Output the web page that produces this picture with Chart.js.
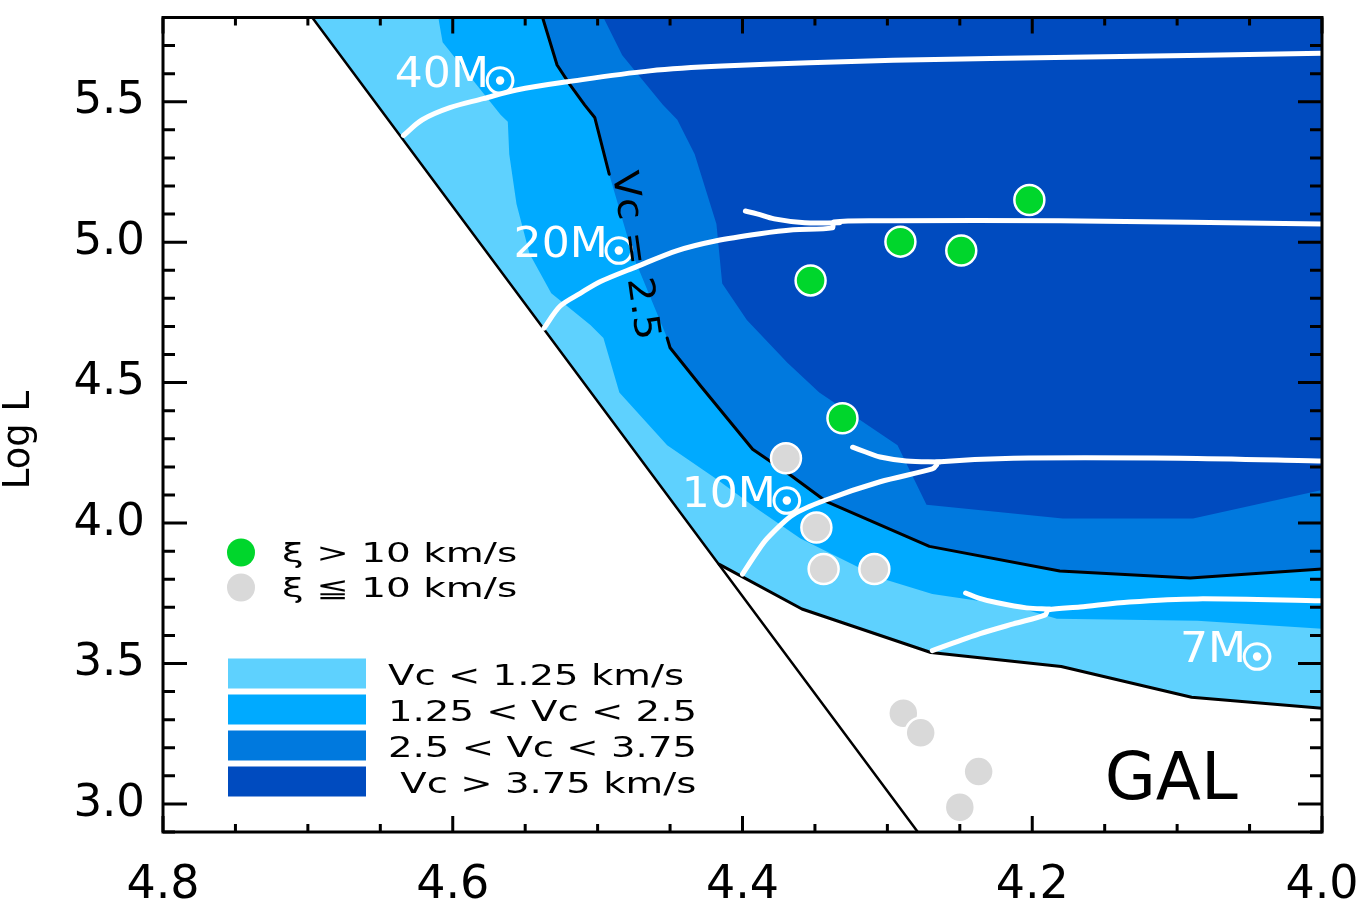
<!DOCTYPE html>
<html lang="en">
<head>
<meta charset="utf-8">
<title>GAL - Vc map</title>
<script src="https://cdn.jsdelivr.net/npm/chart.js@4.4.1/dist/chart.umd.min.js"></script>
<style>
  html, body { margin: 0; padding: 0; background: #fff; }
  canvas { display: block; }
</style>
</head>
<body>
<canvas id="grafico" width="1366" height="911"></canvas>
<script>
// --- Axes (x = log Teff, reversed; y = log L) ---
const xTicks = [4.8, 4.6, 4.4, 4.2, 4.0];
const yTicks = [3.0, 3.5, 4.0, 4.5, 5.0, 5.5];

// --- Vc contours: [log Teff, log L], each region is filled up to the top edge ---
const zamsLine = [[4.697, 5.8], [4.279, 2.9]];
const edgeOuter = [[4.697, 5.8], [4.416, 3.853], [4.359, 3.694], [4.270, 3.539], [4.180, 3.489], [4.090, 3.380], [4.0, 3.341]];
const edge125 = [[4.610, 5.8], [4.607, 5.712], [4.567, 5.454], [4.562, 5.429], [4.561, 5.313], [4.556, 5.136], [4.547, 4.959],
    [4.532, 4.818], [4.505, 4.705], [4.496, 4.659], [4.485, 4.465], [4.452, 4.277], [4.418, 4.157], [4.390, 4.051],
    [4.360, 3.945], [4.305, 3.804], [4.269, 3.747], [4.213, 3.705], [4.183, 3.659], [4.086, 3.652], [4.0, 3.624]];
const edge250 = [[4.538, 5.8], [4.528, 5.631], [4.519, 5.560], [4.509, 5.489], [4.502, 5.444], [4.492, 5.242], [4.476, 4.959],
    [4.452, 4.659], [4.450, 4.624], [4.429, 4.489], [4.393, 4.263], [4.367, 4.171], [4.342, 4.076], [4.271, 3.917],
    [4.181, 3.829], [4.091, 3.804], [4.0, 3.836]];
const edge375 = [[4.496, 5.8], [4.483, 5.666], [4.455, 5.489], [4.445, 5.436], [4.433, 5.313], [4.418, 5.065], [4.414, 4.853],
    [4.397, 4.723], [4.369, 4.571], [4.347, 4.465], [4.293, 4.277], [4.273, 4.065], [4.179, 4.016], [4.089, 4.016], [4.0, 4.118]];
const edge250Gap = 6; // where the "Vc = 2.5" label sits on the line

const vcColors = ['#5ed1fe', '#00aaff', '#0079de', '#004bbf'];
const vcLabels = ['Vc < 1.25 km/s', '1.25 < Vc < 2.5', '2.5 < Vc < 3.75', ' Vc > 3.75 km/s'];

// --- Evolutionary tracks ---
const track40 = [[4.634, 5.380], [4.621, 5.436], [4.602, 5.479], [4.579, 5.511], [4.556, 5.542], [4.521, 5.571],
    [4.464, 5.610], [4.414, 5.627], [4.296, 5.648], [4.162, 5.659], [4.0, 5.673]];
const track20 = [[4.537, 4.694], [4.526, 4.772], [4.512, 4.818], [4.498, 4.860], [4.473, 4.913], [4.445, 4.970],
    [4.418, 5.005], [4.388, 5.030], [4.365, 5.044], [4.338, 5.051], [4.337, 5.072], [4.296, 5.076], [4.181, 5.076], [4.0, 5.065]];
const loop20 = [[4.333, 5.069], [4.357, 5.069], [4.378, 5.083], [4.390, 5.101], [4.398, 5.111]];
const track10 = [[4.400, 3.818], [4.391, 3.889], [4.383, 3.945], [4.365, 4.030], [4.342, 4.083], [4.305, 4.147],
    [4.269, 4.193], [4.266, 4.207], [4.266, 4.217], [4.213, 4.231], [4.098, 4.231], [4.0, 4.221]];
const loop10 = [[4.264, 4.217], [4.287, 4.221], [4.305, 4.235], [4.315, 4.253], [4.324, 4.270]];
const track7 = [[4.269, 3.546], [4.236, 3.606], [4.213, 3.641], [4.191, 3.673], [4.189, 3.691], [4.167, 3.701],
    [4.133, 3.719], [4.086, 3.730], [4.0, 3.723]];
const loop7 = [[4.188, 3.694], [4.204, 3.698], [4.224, 3.716], [4.237, 3.733], [4.246, 3.751]];

const trackNames = ['40M', '20M', '10M', '7M'];
const trackLabelTeff = [4.640, 4.558, 4.442, 4.098];
const trackLabelLogL = [5.553, 4.949, 4.058, 3.504];

// --- Stars ---
const fastStars = [[4.202, 5.150], [4.291, 5.002], [4.249, 4.970], [4.353, 4.864], [4.331, 4.373]];
const slowStars = [[4.370, 4.231], [4.349, 3.984], [4.344, 3.836], [4.309, 3.836], [4.289, 3.323], [4.277, 3.253],
    [4.237, 3.115], [4.250, 2.988]];
const starLabels = ['ξ > 10 km/s', 'ξ ≦ 10 km/s'];
const starColors = ['#00d62c', '#d9d9d9'];

const FONT = '"DejaVu Sans", sans-serif';
const toXY = arr => arr.map(p => ({ x: p[0], y: p[1] }));

function region(points, color, order) {
    return { type: 'line', data: toXY(points), fill: 'end', backgroundColor: color, borderColor: 'transparent',
        borderWidth: 0, pointRadius: 0, order: order, clip: 0 };
}
function curve(points, color, width, order, tension = 0) {
    return { type: 'line', data: points, fill: false, borderColor: color, borderWidth: width, pointRadius: 0,
        tension: tension, borderJoinStyle: 'round', borderCapStyle: 'round', order: order, clip: 0 };
}
function stars(points, color) {
    return { type: 'line', data: toXY(points), showLine: false, pointRadius: 15, pointHoverRadius: 15,
        pointBackgroundColor: color, pointBorderColor: '#fff', pointBorderWidth: 2.5, order: 1 };
}

function text(ctx, str, px, py, size, o = {}) {
    ctx.save();
    ctx.font = `${size}px ${FONT}`;
    ctx.fillStyle = o.color || '#000';
    ctx.textAlign = o.align || 'left';
    ctx.textBaseline = o.baseline || 'alphabetic';
    ctx.translate(px, py);
    if (o.rotate) ctx.rotate(o.rotate);
    ctx.scale(o.sx || 1, 1);
    if (o.stroke) {
        ctx.strokeStyle = ctx.fillStyle;
        ctx.lineWidth = o.stroke;
        ctx.strokeText(str, 0, 0);
    }
    ctx.fillText(str, 0, 0);
    const w = ctx.measureText(str).width * (o.sx || 1);
    ctx.restore();
    return w;
}

// Labels, legend and the inward tick frame
const decorations = {
    id: 'decorations',
    afterDatasetsDraw(chart) {
        const { ctx, chartArea: a, scales: { x, y } } = chart;

        // track labels with the solar symbol
        trackNames.forEach((name, i) => {
            const px = x.getPixelForValue(trackLabelTeff[i]);
            const py = y.getPixelForValue(trackLabelLogL[i]);
            const w = text(ctx, name, px, py, 42, { color: '#fff', sx: 1.05 });
            text(ctx, '☉', px + w + 11, py - 2, 37, { color: '#fff', align: 'center', baseline: 'middle', stroke: 1.6 });
        });

        // contour label
        text(ctx, 'Vc = 2.5', x.getPixelForValue(4.475), y.getPixelForValue(4.952), 36,
            { align: 'center', baseline: 'middle', rotate: 82 * Math.PI / 180, sx: 1.1 });

        // star legend
        starLabels.forEach((lab, i) => {
            const cy = a.top + 535 + i * 35;
            ctx.beginPath();
            ctx.arc(a.left + 78, cy, 14, 0, Math.PI * 2);
            ctx.fillStyle = starColors[i];
            ctx.fill();
            text(ctx, lab, a.left + 119, cy + 9, 26, { sx: 1.5 });
        });

        // Vc legend
        vcLabels.forEach((lab, i) => {
            const top = a.top + 641 + i * 36;
            ctx.fillStyle = vcColors[i];
            ctx.fillRect(a.left + 65, top, 138, 30);
            text(ctx, lab, a.left + 225, top + 26, 28, { sx: 1.38 });
        });

        text(ctx, 'GAL', x.getPixelForValue(4.150), y.getPixelForValue(3.016), 66);

        // y axis title
        text(ctx, 'Log L', 19, 440, 37, { align: 'center', baseline: 'middle', rotate: -Math.PI / 2 });
    },
    afterDraw(chart) {
        const { ctx, chartArea: a, scales: { x, y } } = chart;
        ctx.save();
        ctx.strokeStyle = '#000';
        ctx.lineWidth = 3;
        ctx.beginPath();
        for (let i = 0; i <= 16; i++) {
            const px = x.getPixelForValue(4.0 + i * 0.05);
            const len = i % 4 === 0 ? 16 : 8;
            ctx.moveTo(px, a.bottom); ctx.lineTo(px, a.bottom - len);
            ctx.moveTo(px, a.top); ctx.lineTo(px, a.top + len);
        }
        for (let i = 0; i <= 29; i++) {
            const py = y.getPixelForValue(2.9 + i * 0.1);
            const len = (i - 1) % 5 === 0 ? 24 : 12;
            ctx.moveTo(a.left, py); ctx.lineTo(a.left + len, py);
            ctx.moveTo(a.right, py); ctx.lineTo(a.right - len, py);
        }
        ctx.stroke();
        ctx.strokeRect(a.left, a.top, a.right - a.left, a.bottom - a.top);
        ctx.restore();
    }
};

const contour250 = edge250.map((p, i) => ({ x: p[0], y: i === edge250Gap ? null : p[1] }));

const datasets = [
    region(edgeOuter, vcColors[0], 10),
    region(edge125, vcColors[1], 9),
    region(edge250, vcColors[2], 8),
    region(edge375, vcColors[3], 7),
    curve(toXY(zamsLine), '#000', 2.5, 5),
    curve(toXY(edgeOuter.slice(1)), '#000', 3, 5),
    curve(contour250, '#000', 3, 5),
    curve(toXY(track40), '#fff', 5, 3, 0.35),
    curve(toXY(track20), '#fff', 5, 3, 0.3),
    curve(toXY(loop20), '#fff', 5, 3, 0.35),
    curve(toXY(track10), '#fff', 5, 3, 0.3),
    curve(toXY(loop10), '#fff', 5, 3, 0.35),
    curve(toXY(track7), '#fff', 5, 3, 0.3),
    curve(toXY(loop7), '#fff', 5, 3, 0.35),
    stars(fastStars, starColors[0]),
    stars(slowStars, starColors[1])
];

const noPadding = s => { s.paddingTop = 0; s.paddingBottom = 0; s.paddingLeft = 0; s.paddingRight = 0; };

new Chart(document.getElementById('grafico').getContext('2d'), {
    type: 'line',
    data: { datasets: datasets },
    options: {
        responsive: false,
        animation: false,
        devicePixelRatio: 1,
        events: [],
        layout: { padding: { left: 0, right: 44, top: 13, bottom: 0 } },
        plugins: { legend: { display: false }, tooltip: { enabled: false } },
        scales: {
            x: {
                type: 'linear', reverse: true, min: 4.0, max: 4.8,
                grid: { display: false, drawTicks: false }, border: { display: false },
                afterBuildTicks: s => { s.ticks = xTicks.map(v => ({ value: v })); },
                afterFit: s => { s.height = 79; noPadding(s); },
                ticks: { callback: v => v.toFixed(1), color: '#000', padding: 26, maxRotation: 0, autoSkip: false,
                    font: { family: 'DejaVu Sans', size: 46 } }
            },
            y: {
                type: 'linear', min: 2.9, max: 5.8,
                grid: { display: false, drawTicks: false }, border: { display: false },
                afterBuildTicks: s => { s.ticks = yTicks.map(v => ({ value: v })); },
                afterFit: s => { s.width = 163; noPadding(s); },
                ticks: { callback: v => v.toFixed(1), color: '#000', padding: 18, autoSkip: false,
                    font: { family: 'DejaVu Sans', size: 45 } }
            }
        }
    },
    plugins: [decorations]
});
</script>
</body>
</html>
